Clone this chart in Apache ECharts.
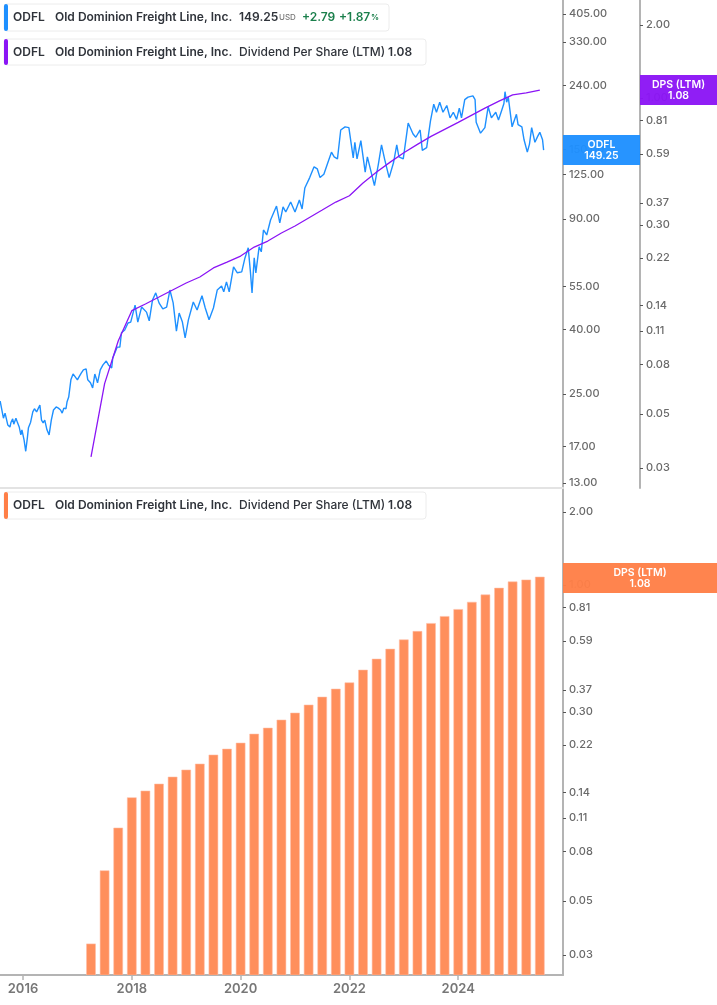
<!DOCTYPE html>
<html><head><meta charset="utf-8">
<script src="https://cdn.jsdelivr.net/npm/echarts@6/dist/echarts.min.js"></script>
<style>html,body{margin:0;padding:0;background:#fff}#c{width:717px;height:1005px}</style>
</head><body><div id="c"></div>
<script>
const priceYears=[2015.58,2015.61,2015.64,2015.67,2015.70,2015.72,2015.76,2015.78,2015.81,2015.83,2015.87,2015.90,2015.93,2015.96,2015.98,2016.02,2016.05,2016.08,2016.10,2016.14,2016.18,2016.21,2016.25,2016.28,2016.31,2016.34,2016.37,2016.40,2016.44,2016.48,2016.52,2016.56,2016.61,2016.65,2016.69,2016.72,2016.75,2016.79,2016.81,2016.84,2016.88,2016.92,2016.96,2017.00,2017.03,2017.07,2017.11,2017.16,2017.19,2017.24,2017.28,2017.32,2017.37,2017.42,2017.47,2017.53,2017.57,2017.63,2017.65,2017.73,2017.78,2017.81,2017.87,2017.93,2017.98,2018.06,2018.11,2018.18,2018.27,2018.32,2018.38,2018.44,2018.50,2018.57,2018.64,2018.70,2018.76,2018.82,2018.87,2018.93,2018.98,2019.04,2019.13,2019.20,2019.29,2019.35,2019.42,2019.50,2019.57,2019.65,2019.69,2019.74,2019.79,2019.87,2019.94,2020.02,2020.08,2020.14,2020.18,2020.21,2020.25,2020.28,2020.34,2020.38,2020.42,2020.48,2020.55,2020.66,2020.72,2020.78,2020.83,2020.92,2021.00,2021.08,2021.13,2021.18,2021.27,2021.35,2021.41,2021.46,2021.53,2021.59,2021.67,2021.72,2021.78,2021.84,2021.92,2021.99,2022.07,2022.10,2022.14,2022.21,2022.29,2022.33,2022.38,2022.46,2022.53,2022.59,2022.65,2022.73,2022.81,2022.87,2022.91,2022.99,2023.08,2023.17,2023.22,2023.30,2023.34,2023.42,2023.49,2023.55,2023.60,2023.66,2023.72,2023.79,2023.85,2023.91,2023.97,2024.02,2024.06,2024.12,2024.18,2024.27,2024.31,2024.33,2024.41,2024.49,2024.55,2024.61,2024.69,2024.74,2024.80,2024.84,2024.86,2024.89,2024.92,2024.99,2025.07,2025.10,2025.17,2025.21,2025.27,2025.31,2025.35,2025.41,2025.46,2025.50,2025.55,2025.57];
const priceValues=[23.7,23.5,20.9,21.7,21.9,19.9,19.6,20.3,20.8,20.0,20.9,20.2,19.6,18.5,19.2,17.8,16.4,18.1,19.5,20.3,21.9,22.4,21.9,22.2,23.0,20.6,20.2,20.6,19.2,18.5,20.6,22.2,22.7,22.5,22.2,21.7,22.5,22.4,23.6,24.4,27.7,28.9,28.3,27.7,28.3,29.1,29.8,30.0,27.7,27.1,26.1,28.9,27.1,29.8,30.9,31.8,30.9,30.2,32.5,35.2,35.2,39.1,39.9,42.0,42.3,47.9,42.3,47.2,45.5,42.7,49.7,52.4,48.7,46.6,47.2,53.5,48.7,39.6,45.2,42.3,37.7,43.0,49.0,46.2,51.3,46.9,43.0,46.9,53.5,55.1,52.8,56.8,52.8,63.4,60.7,61.1,67.7,72.9,61.1,52.4,67.7,60.7,73.4,70.8,83.1,80.1,89.4,99.0,87.5,98.4,94.8,102,94.8,103.5,96.9,113,122,132,130,122,125,134,147,142,140,173,177,176,141,158,140,160,127,142,131,115,134,155,139,122,136,155,142,140,182,168,164,173,149,152,185,209,197,212,197,207,189,197,187,203,189,216,220,222,216,183,169,176,205,189,197,186,200,210,229,212,220,177,194,180,177,161,147,156,176,158,165,170,161,149.25];
const dpsYears=[2017.25,2017.5,2017.75,2018,2018.25,2018.5,2018.75,2019,2019.25,2019.5,2019.75,2020,2020.25,2020.5,2020.75,2021,2021.25,2021.5,2021.75,2022,2022.25,2022.5,2022.75,2023,2023.25,2023.5,2023.75,2024,2024.25,2024.5,2024.75,2025,2025.25,2025.5];
const dpsValues=[0.0333,0.0667,0.1,0.1333,0.142,0.1517,0.1621,0.1733,0.1834,0.1998,0.2113,0.2237,0.2436,0.2579,0.2783,0.2974,0.3209,0.346,0.3733,0.3963,0.447,0.496,0.5452,0.5955,0.645,0.6955,0.7433,0.7943,0.8511,0.912,0.972,1.032,1.051,1.08];
const priceTicks=[405,330,240,150,125,90,55,40,25,17,13];
const dpsTicks=[2,1,0.81,0.59,0.37,0.3,0.22,0.14,0.11,0.08,0.05,0.03];
const yearTicks=[2016,2018,2020,2022,2024];
const ticker='ODFL', company='Old Dominion Freight Line, Inc.', metric='Dividend Per Share (LTM)';

const FONT='Inter, "Noto Sans", sans-serif';
const BLUE='#1e90ff',PURPLE='#8b15f5',ORANGE='#ff7f47',AXIS='#b4b4b4',LABEL='#6a6a6a',DARK='#2f333a';
const X_MIN=2015.577,X_MAX=2025.926;
const fmt=v=>Number(v).toFixed(2);
function yAxis(grid,min,max,ticks,offset){
  return {type:'log',logBase:10,gridIndex:grid,position:'right',offset,min,max,
    axisLine:{show:true,onZero:false,lineStyle:{color:AXIS,width:2}},
    axisTick:{show:true,length:3,customValues:ticks,lineStyle:{color:'#555',width:1}},
    axisLabel:{show:true,customValues:ticks,formatter:fmt,margin:6,color:LABEL,fontFamily:FONT,fontSize:11,fontWeight:500,showMinLabel:true,showMaxLabel:true},
    minorTick:{show:false},splitLine:{show:false},minorSplitLine:{show:false}};
}
function txt(x,y,text,o){
  o=o||{};
  return {type:'text',x,y,z:50,style:{text,fontFamily:FONT,fontSize:o.size||12,fontWeight:o.w||600,fill:o.c||DARK,textVerticalAlign:'middle',textAlign:o.a||'left'}};
}
function box(y,h,w,color){
  return [
    {type:'rect',z:48,shape:{x:4,y,width:w,height:h,r:3},style:{fill:'#fff',stroke:'#ececec',lineWidth:1}},
    {type:'rect',z:49,shape:{x:4,y,width:4,height:h,r:2},style:{fill:color}}
  ];
}
function tag(x,y,w,h,color,a,b){
  return [
    {type:'rect',z:40,shape:{x,y,width:w,height:h},style:{fill:color,opacity:0.96}},
    txt(x+w/2,y+10,a,{c:'#fff',size:10.5,a:'center'}),
    txt(x+w/2,y+21,b,{c:'#fff',size:10.5,a:'center'})
  ];
}
const graphics=[
  ...box(4,27,385,BLUE),
  txt(13,17,ticker),txt(55,17,company),txt(239,17,'149.25'),
  txt(279,18,'USD',{size:8,w:500,c:'#777'}),
  txt(302,17,'+2.79',{c:'#1a7f4b'}),txt(339,17,'+1.87',{c:'#1a7f4b'}),txt(371,18,'%',{size:8,c:'#1a7f4b'}),
  ...box(39,26,422,PURPLE),
  txt(13,52,ticker),txt(55,52,company),txt(239,52,metric,{w:500}),txt(388,52,'1.08'),
  ...box(492,27,422,ORANGE),
  txt(13,505,ticker),txt(55,505,company),txt(239,505,metric,{w:500}),txt(388,505,'1.08'),
  ...tag(563,135,77,30,BLUE,ticker,'149.25'),
  ...tag(640,75,77,30,PURPLE,'DPS (LTM)','1.08'),
  ...tag(563,563,154,30,ORANGE,'DPS (LTM)','1.08')
];
const chart=echarts.init(document.getElementById('c'),null,{renderer:'canvas'});
const DPS_MIN=0.0248;
chart.setOption({
  animation:false,backgroundColor:'#fff',
  grid:[{left:0,top:0,width:563,height:488},{left:0,top:489,width:563,height:486}],
  xAxis:[
    {type:'value',gridIndex:0,min:X_MIN,max:X_MAX,position:'bottom',
      axisLine:{show:true,onZero:false,lineStyle:{color:'#e3e3e3',width:2}},axisTick:{show:false},axisLabel:{show:false},splitLine:{show:false}},
    {type:'value',gridIndex:0,min:X_MIN,max:X_MAX,show:false,position:'top'},
    {type:'value',gridIndex:1,min:X_MIN,max:X_MAX,position:'bottom',
      axisLine:{show:true,onZero:false,lineStyle:{color:AXIS,width:2}},
      axisTick:{show:true,length:5,customValues:yearTicks,lineStyle:{color:AXIS,width:1.5}},
      axisLabel:{show:true,customValues:yearTicks,formatter:v=>String(Math.round(v)),margin:8,color:'#777',fontFamily:FONT,fontSize:13,fontWeight:600},
      splitLine:{show:false}}
  ],
  yAxis:[
    yAxis(0,12.53,448.6,priceTicks,0),
    yAxis(0,0.0248,2.536,dpsTicks,77),
    yAxis(1,DPS_MIN,2.488,dpsTicks,0)
  ],
  series:[
    {type:'line',name:'ODFL',xAxisIndex:0,yAxisIndex:0,data:priceYears.map((y,i)=>[y,priceValues[i]]),showSymbol:false,symbol:'none',lineStyle:{color:BLUE,width:1.4},z:3},
    {type:'line',name:'DPS (LTM)',xAxisIndex:0,yAxisIndex:1,data:dpsYears.map((y,i)=>[y,dpsValues[i]]),showSymbol:false,symbol:'none',lineStyle:{color:PURPLE,width:1.3},z:4},
    {type:'custom',name:'DPS (LTM) bars',xAxisIndex:2,yAxisIndex:2,data:dpsYears.map((y,i)=>[y,dpsValues[i]]),encode:{x:0,y:1},clip:true,
      renderItem:(params,api)=>{
        const t=api.coord([api.value(0),api.value(1)]),b=api.coord([api.value(0),DPS_MIN]);
        return {type:'rect',shape:{x:t[0]-4.5,y:t[1],width:9,height:b[1]-t[1]},style:{fill:'#ff8f5c',stroke:'rgba(255,190,165,0.55)',lineWidth:1}};
      },z:3}
  ],
  graphic:graphics
});
</script></body></html>
